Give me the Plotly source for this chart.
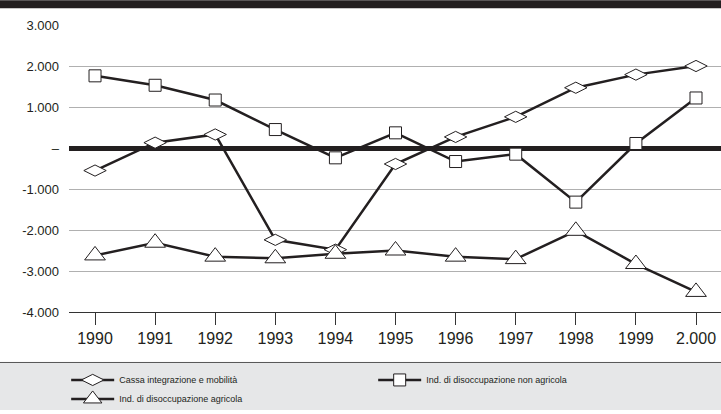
import plotly.graph_objects as go

years = [1990, 1991, 1992, 1993, 1994, 1995, 1996, 1997, 1998, 1999, 2000]
year_labels = ["1990", "1991", "1992", "1993", "1994", "1995", "1996", "1997", "1998", "1999", "2.000"]

cassa = [-550, 130, 330, -2240, -2480, -390, 270, 760, 1470, 1790, 2000]
non_agricola = [1760, 1530, 1170, 450, -240, 370, -330, -150, -1320, 110, 1220]
agricola = [-2620, -2310, -2650, -2690, -2580, -2500, -2650, -2710, -2020, -2830, -3510]

y_ticks = [-4000, -3000, -2000, -1000, 0, 1000, 2000, 3000]
y_labels = ["-4.000", "-3.000", "-2.000", "-1.000", "–", "1.000", "2.000", "3.000"]

names = ["Cassa integrazione e mobilità", "Ind. di disoccupazione non agricola", "Ind. di disoccupazione agricola"]

FONT = "Liberation Sans, Arial, sans-serif"

fig = go.Figure()
fig.add_trace(go.Scatter(
    x=years, y=cassa, name=names[0], mode="lines+markers",
    line=dict(color="#231f20", width=2.5),
    marker=dict(symbol="diamond-wide", size=16, color="white", line=dict(color="#231f20", width=1)),
))
fig.add_trace(go.Scatter(
    x=years, y=non_agricola, name=names[1], mode="lines+markers",
    line=dict(color="#231f20", width=2.5),
    marker=dict(symbol="square", size=12, color="white", line=dict(color="#231f20", width=1)),
))
fig.add_trace(go.Scatter(
    x=years, y=agricola, name=names[2], mode="lines+markers",
    line=dict(color="#231f20", width=2.5),
    marker=dict(symbol="triangle-up", size=18, color="white", line=dict(color="#231f20", width=1)),
))

PLOT_L, PLOT_T, PLOT_B = 69, 25, 99
W, H = 721, 414
plot_w = W - PLOT_L
plot_h = H - PLOT_T - PLOT_B

def py(pix):
    return (H - PLOT_B - pix) / plot_h

shapes = [
    dict(type="rect", xref="paper", yref="paper", x0=-PLOT_L / plot_w, x1=1.0,
         y0=py(8), y1=py(0), fillcolor="#231f20", line=dict(width=0), layer="below"),
    dict(type="rect", xref="paper", yref="paper", x0=-PLOT_L / plot_w, x1=1.0,
         y0=py(H), y1=py(366), fillcolor="#e6e7e8", line=dict(width=0), layer="below"),
    dict(type="line", xref="paper", yref="paper", x0=-PLOT_L / plot_w, x1=1.0,
         y0=py(366), y1=py(366), line=dict(color="#555555", width=1), layer="below"),
]

fig.update_layout(
    width=W, height=H,
    margin=dict(l=PLOT_L, r=0, t=PLOT_T, b=PLOT_B, pad=0),
    paper_bgcolor="white", plot_bgcolor="white",
    font=dict(family=FONT, color="#231f20"),
    shapes=shapes,
    showlegend=True,
    legend=dict(
        orientation="h", x=(74 - PLOT_L) / plot_w - 0.012, xanchor="left",
        y=py(369), yanchor="top",
        bgcolor="rgba(0,0,0,0)", font=dict(size=9, family=FONT),
        entrywidth=249, entrywidthmode="pixels", tracegroupgap=0,
        itemwidth=43, traceorder="normal",
    ),
    xaxis=dict(
        range=[1989.567, 2000.416], tickvals=years, ticktext=year_labels,
        showgrid=False, zeroline=False, showline=True, linecolor="#333333", linewidth=1,
        ticks="outside", ticklen=12, tickcolor="#333333", tickwidth=1,
        tickfont=dict(size=16, family=FONT, color="#231f20"),
        fixedrange=True,
    ),
    yaxis=dict(
        range=[-4000, 3000], tickvals=y_ticks, ticktext=y_labels,
        showgrid=True, gridcolor="#b0b0b0", gridwidth=1,
        zeroline=True, zerolinecolor="#231f20", zerolinewidth=5,
        showline=False, ticks="",
        ticklabelstandoff=9,
        tickfont=dict(size=13, family=FONT, color="#231f20"),
        fixedrange=True,
    ),
)

fig.write_html("out.html")
